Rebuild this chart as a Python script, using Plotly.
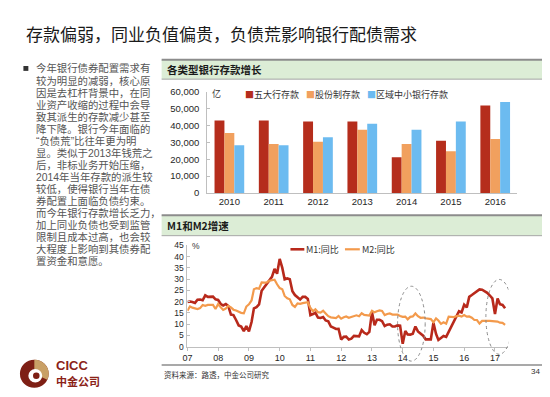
import plotly.graph_objects as go
import pandas as pd
import math

# ---------------- data ----------------
years = ["2010", "2011", "2012", "2013", "2014", "2015", "2016"]
big5_deposits = [43000, 43000, 42400, 42400, 21100, 31000, 51800]
joint_stock_deposits = [35500, 29000, 30300, 37400, 29000, 24700, 32000]
regional_deposits = [28200, 28200, 33000, 41000, 37400, 42400, 54000]
bar_names = ["五大行存款", "股份制存款", "区域中小银行存款"]

m1_yoy = [
    19.8, 20.0, 19.8, 19.4, 20.8, 20.9, 20.6, 22.8, 22.1, 22.2, 22.2, 21.0,
    20.7, 18.9, 18.3, 18.9, 18.0, 14.2, 14.0, 11.8, 9.4, 8.9, 6.8, 9.1,
    6.7, 10.9, 17.0, 17.5, 18.7, 24.8, 26.4, 27.7, 29.5, 31.0, 34.6, 32.4,
    39.0, 35.0, 29.9, 30.3, 29.9, 24.6, 22.9, 21.9, 20.9, 22.1, 22.1, 21.2,
    14.0, 14.5, 15.0, 12.9, 12.7, 13.1, 11.6, 11.2, 8.9, 8.4, 7.8, 7.9,
    3.1, 4.3, 4.4, 3.1, 3.5, 4.7, 4.6, 4.5, 7.3, 6.1, 5.5, 6.5,
    15.3, 9.5, 11.9, 11.9, 11.3, 9.1, 9.7, 9.9, 8.9, 8.9, 9.4, 9.3,
    1.2, 6.9, 5.4, 5.3, 5.7, 8.9, 6.7, 5.7, 4.8, 3.2, 3.2, 3.2,
    10.6, 5.6, 2.9, 3.7, 4.7, 4.3, 6.6, 9.3, 11.4, 14.0, 15.7, 15.2,
    18.6, 17.4, 22.1, 22.9, 23.7, 24.6, 25.4, 25.3, 24.7, 23.9, 22.7, 21.4,
    14.5, 21.4, 18.8, 18.5, 17.0,
]
m2_yoy = [
    15.9, 17.8, 17.3, 17.1, 16.7, 17.1, 18.5, 18.1, 18.5, 18.5, 18.5, 16.7,
    18.9, 17.5, 16.3, 16.9, 18.1, 17.4, 16.4, 16.0, 15.3, 15.0, 14.8, 17.8,
    18.8, 20.5, 25.5, 26.0, 25.7, 28.5, 28.4, 28.5, 29.3, 29.4, 29.7, 27.7,
    26.0, 25.5, 22.5, 21.5, 21.0, 18.5, 17.6, 19.2, 19.0, 19.3, 19.5, 19.7,
    17.2, 15.7, 16.6, 15.3, 15.1, 15.9, 14.7, 13.5, 13.0, 12.9, 12.7, 13.6,
    12.4, 13.0, 13.4, 12.8, 13.2, 13.6, 13.9, 13.5, 14.8, 14.1, 13.9, 13.8,
    15.9, 15.2, 15.7, 16.1, 15.8, 14.0, 14.5, 14.7, 14.2, 14.3, 14.2, 13.6,
    13.2, 13.3, 12.1, 13.2, 13.4, 14.7, 13.5, 12.8, 12.9, 12.6, 12.3, 12.2,
    10.8, 12.5, 11.6, 10.1, 10.8, 10.2, 13.3, 13.3, 13.1, 13.5, 13.7, 13.3,
    14.0, 13.3, 13.4, 12.8, 11.8, 11.8, 10.2, 11.4, 11.5, 11.6, 11.4, 11.3,
    11.3, 11.1, 10.6, 10.5, 9.6,
]
months = pd.date_range("2007-01-01", periods=len(m1_yoy), freq="MS")
line_names = ["M1:同比", "M2:同比"]

title_text = "存款偏弱，同业负值偏贵，负债荒影响银行配债需求"
body_lines = [
    "今年银行债券配置需求有",
    "较为明显的减弱，核心原",
    "因是去杠杆背景中，在同",
    "业资产收缩的过程中会导",
    "致其派生的存款减少甚至",
    "降下降。银行今年面临的",
    "“负债荒”比往年更为明",
    "显。类似于2013年钱荒之",
    "后，非标业务开始压缩，",
    "2014年当年存款的派生较",
    "较低，使得银行当年在债",
    "券配置上面临负债约束。",
    "而今年银行存款增长乏力，",
    "加上同业负债也受到监管",
    "限制且成本过高，也会较",
    "大程度上影响到其债券配",
    "置资金和意愿。",
]

# ---------------- style ----------------
W, H = 550, 397
RED, ORANGE, BLUE = "#B52D1C", "#F1A05E", "#6CBBF0"
M1C, M2C = "#B8291B", "#F39A4C"
AXC = "#BFBFBF"
CJK = "Noto Sans CJK SC"
LAT = "Liberation Sans"
MIX = "Liberation Sans, Noto Sans CJK SC"
LOGO_RED, LOGO_TAN = "#7E1F15", "#C9A066"


def X(px):
    return px / W


def Y(py):
    return 1 - py / H


fig = go.Figure()
for vals, name, col in zip([big5_deposits, joint_stock_deposits, regional_deposits], bar_names, [RED, ORANGE, BLUE]):
    fig.add_trace(go.Bar(x=years, y=vals, name=name, marker=dict(color=col, line=dict(width=0)),
                         xaxis="x", yaxis="y"))
for vals, name, col, w in zip([m1_yoy, m2_yoy], line_names, [M1C, M2C], [2.6, 2.2]):
    fig.add_trace(go.Scatter(x=months, y=vals, name=name, mode="lines",
                             line=dict(color=col, width=w), xaxis="x2", yaxis="y2"))

shapes = []
annotations = []

# title
annotations.append(dict(x=X(11), y=Y(20), xref="paper", yref="paper", text=title_text, showarrow=False,
                        xanchor="left", yanchor="middle", font=dict(family=CJK, size=17, color="#1a1a1a")))

# body text
shapes.append(dict(type="rect", xref="paper", yref="paper", x0=X(10.5), x1=X(15.5), y0=Y(58.5), y1=Y(53.5),
                   fillcolor="#333333", line=dict(width=0)))
for i, line in enumerate(body_lines):
    annotations.append(dict(x=X(21), y=Y(56 + i * 12.4), xref="paper", yref="paper", text=line,
                            showarrow=False, xanchor="left", yanchor="middle",
                            font=dict(family=MIX, size=10.4, color="#555555")))

# panel header bands
for top, bottom, label in [(47, 67, "各类型银行存款增长"), (207, 228, "M1和M2增速")]:
    shapes.append(dict(type="rect", xref="paper", yref="paper", x0=X(150), x1=X(535), y0=Y(bottom), y1=Y(top),
                       fillcolor="#DCEDD6", line=dict(width=0), layer="below"))
    shapes.append(dict(type="line", xref="paper", yref="paper", x0=X(150), x1=X(535), y0=Y(top), y1=Y(top),
                       line=dict(color="#8C8C8C", width=2)))
    shapes.append(dict(type="line", xref="paper", yref="paper", x0=X(150), x1=X(535), y0=Y(bottom), y1=Y(bottom),
                       line=dict(color="#A6A6A6", width=1)))
    annotations.append(dict(x=X(153), y=Y((top + bottom) / 2 + 0.5), xref="paper", yref="paper",
                            text="<b>" + label + "</b>", showarrow=False, xanchor="left", yanchor="middle",
                            font=dict(family=CJK, size=10.5, color="#1a1a1a")))

# bottom rule + source + page number
shapes.append(dict(type="line", xref="paper", yref="paper", x0=X(150), x1=X(535), y0=Y(361), y1=Y(361),
                   line=dict(color="#8C8C8C", width=1.5)))
annotations.append(dict(x=X(150), y=Y(371), xref="paper", yref="paper", text="资料来源：路透，中金公司研究",
                        showarrow=False, xanchor="left", yanchor="middle",
                        font=dict(family=CJK, size=7.5, color="#333")))
annotations.append(dict(x=X(534), y=Y(368), xref="paper", yref="paper", text="34",
                        showarrow=False, xanchor="right", yanchor="middle",
                        font=dict(family=LAT, size=8, color="#333")))

# bar legend (custom)
for xs, name, col in zip([232, 294, 355], bar_names, [RED, ORANGE, BLUE]):
    annotations.append(dict(x=X(xs), y=Y(83), xref="paper", yref="paper",
                            text=f"<span style='color:{col}'>■</span>{name}", showarrow=False,
                            xanchor="left", yanchor="middle", font=dict(family=CJK, size=9, color="#333")))
annotations.append(dict(x=X(199), y=Y(82), xref="paper", yref="paper", text="亿", showarrow=False,
                        xanchor="left", yanchor="middle", font=dict(family=CJK, size=9, color="#333")))

# line legend (custom)
for x0, x1, name, col, w in [(280, 294, line_names[0], M1C, 2.6), (335, 350, line_names[1], M2C, 2.2)]:
    shapes.append(dict(type="line", xref="paper", yref="paper", x0=X(x0), x1=X(x1), y0=Y(242), y1=Y(242),
                       line=dict(color=col, width=w)))
    annotations.append(dict(x=X(x1), y=Y(242), xref="paper", yref="paper", text=name, showarrow=False,
                            xanchor="left", yanchor="middle", font=dict(family=CJK, size=9, color="#333")))
annotations.append(dict(x=X(179), y=Y(239), xref="paper", yref="paper", text="%", showarrow=False,
                        xanchor="left", yanchor="middle", font=dict(family=LAT, size=8.5, color="#333")))

# dashed ellipses highlighting 2014 and 2017
for xa, xb, ya, yb in [("2013-11-01", "2014-09-25", 280, 357), ("2016-09-15", "2017-07-30", 273, 350)]:
    shapes.append(dict(type="circle", xref="x2", yref="paper", x0=xa, x1=xb, y0=Y(yb), y1=Y(ya),
                       line=dict(color="#8A8A8A", width=1, dash="dot"), layer="above"))

# CICC logo
cx, cy, r = 21.5, 370, 14.5
shapes.append(dict(type="circle", xref="paper", yref="paper", x0=X(cx - r), x1=X(cx + r), y0=Y(cy + r), y1=Y(cy - r),
                   fillcolor=LOGO_RED, line=dict(width=0)))
pts = [f"M {X(cx)} {Y(cy)}"]
for k in range(0, 31):
    a = math.radians(-90 + k * 115 / 30)
    pts.append(f"L {X(cx + r * math.cos(a))} {Y(cy + r * math.sin(a))}")
pts.append("Z")
shapes.append(dict(type="path", xref="paper", yref="paper", path=" ".join(pts), fillcolor=LOGO_TAN, line=dict(width=0)))
ri = 7
shapes.append(dict(type="circle", xref="paper", yref="paper", x0=X(cx + 1 - ri), x1=X(cx + 1 + ri),
                   y0=Y(cy + 2 + ri), y1=Y(cy + 2 - ri), fillcolor="white", line=dict(width=0)))
rc = 3.3
shapes.append(dict(type="circle", xref="paper", yref="paper", x0=X(cx + 2 - rc), x1=X(cx + 2 + rc),
                   y0=Y(cy + 2 + rc), y1=Y(cy + 2 - rc), fillcolor=LOGO_RED, line=dict(width=0)))
annotations.append(dict(x=X(41), y=Y(362), xref="paper", yref="paper", text="<b>CICC</b>", showarrow=False,
                        xanchor="left", yanchor="middle", font=dict(family=LAT, size=13, color="#8B2318")))
annotations.append(dict(x=X(41), y=Y(377), xref="paper", yref="paper", text="<b>中金公司</b>", showarrow=False,
                        xanchor="left", yanchor="middle", font=dict(family=CJK, size=11, color="#8B2318")))

tickfont = dict(family=LAT, size=9.5, color="#262626")
fig.update_layout(
    width=W, height=H, margin=dict(l=0, r=0, t=0, b=0),
    paper_bgcolor="white", plot_bgcolor="white", showlegend=False,
    barmode="group", bargap=0.33, bargroupgap=0,
    xaxis=dict(domain=[X(196), X(509)], anchor="y", type="category", showline=True, linecolor=AXC,
               ticks="", tickfont=tickfont, showgrid=False, fixedrange=True),
    yaxis=dict(domain=[Y(184), Y(80)], anchor="x", range=[0, 60000], dtick=10000, tickformat=",",
               showline=True, linecolor=AXC, ticks="inside", ticklen=3, tickcolor=AXC, showgrid=False,
               zeroline=False, tickfont=tickfont, ticklabelstandoff=5),
    xaxis2=dict(domain=[X(176), X(500)], anchor="y2", type="date", range=["2007-01-01", "2017-06-10"],
                dtick="M12", tick0="2007-01-01", tickformat="%y", showline=True, linecolor=AXC,
                ticks="outside", ticklen=3, tickcolor=AXC, showgrid=False,
                tickfont=dict(family=LAT, size=9, color="#262626")),
    yaxis2=dict(domain=[Y(342), Y(238)], anchor="x2", range=[0, 45], dtick=5, showline=True, linecolor=AXC,
                ticks="inside", ticklen=3, tickcolor=AXC, showgrid=False, zeroline=False,
                tickfont=dict(family=LAT, size=8.5, color="#262626"), ticklabelstandoff=1),
    shapes=shapes, annotations=annotations,
)

fig.write_html("out.html")
